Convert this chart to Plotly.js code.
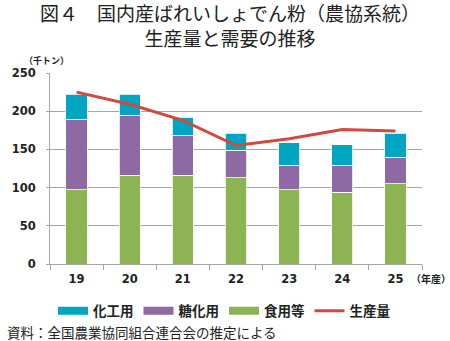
<!DOCTYPE html>
<html><head><meta charset="utf-8">
<script src="https://cdn.plot.ly/plotly-3.0.1.min.js"></script>
<style>body{margin:0;padding:0;background:#fff}#chart{width:450px;height:341px}</style>
</head><body><div id="chart"></div>
<script>
const years = ['19','20','21','22','23','24','25'];
const food = [97, 116, 116, 113, 97, 94, 105];       // 食用等
const sugar = [92, 79, 52, 36, 32, 35, 35];          // 糖化用
const chem = [33, 27, 24, 22, 30, 27, 31];           // 化工用
const production = [225, 209, 188, 155, 164, 176, 174]; // 生産量
const names = {chem:'化工用', sugar:'糖化用', food:'食用等', prod:'生産量'};
const colors = {chem:'#00A5C1', sugar:'#8E69A3', food:'#8CB453', prod:'#D24A3F'};

const JP = '"Noto Sans CJK JP", "DejaVu Sans", sans-serif';
const NUM = '"DejaVu Sans", "Noto Sans CJK JP", sans-serif';

// plot area in pixels (for placing free text)
const PL = 50, PR = 422, PT = 73, PB = 264;
const px = x => (x - PL) / (PR - PL);
const py = y => (PB - y) / (PB - PT);

function bar(y, key){
  return {type:'bar', x:years, y:y, name:names[key], showlegend:false,
    marker:{color:colors[key], line:{color:'#FFFFFF', width:0.8}}, hoverinfo:'y'};
}
function legendItem(key, rank, width){
  return {type:'scatter', mode:'lines', x:[years[0]], y:[-100], name:names[key],
    legendrank:rank, line:{color:colors[key], width:width}, hoverinfo:'skip'};
}
const traces = [
  bar(food,'food'), bar(sugar,'sugar'), bar(chem,'chem'),
  {type:'scatter', mode:'lines', x:years, y:production, name:names.prod, showlegend:false,
   line:{color:colors.prod, width:3}},
  legendItem('chem',1,8), legendItem('sugar',2,8), legendItem('food',3,8), legendItem('prod',4,3)
];
const layout = {
  width:450, height:341,
  margin:{l:PL, r:450-PR, t:PT, b:341-PB},
  paper_bgcolor:'#fff', plot_bgcolor:'#fff',
  barmode:'stack', bargap:0.6,
  showlegend:true,
  legend:{orientation:'h', traceorder:'normal', x:53/450, xref:'container', xanchor:'left',
    y:1-311/341, yref:'container', yanchor:'middle',
    font:{family:JP, size:13.5, color:'#222', weight:700}, itemwidth:30, tracegroupgap:0, itemclick:false},
  xaxis:{type:'category', categoryorder:'array', categoryarray:years, range:[-0.5, years.length-0.5],
    tickson:'boundaries', ticks:'outside', ticklen:5, tickcolor:'#A6A6A6',
    showline:true, linecolor:'#A6A6A6', linewidth:1, showgrid:false,
    tickfont:{family:NUM, size:11.5, color:'#222', weight:700}, ticklabelstandoff:4, fixedrange:true},
  yaxis:{range:[0,250], dtick:50, ticks:'outside', ticklen:3, tickcolor:'#A6A6A6',
    showline:true, linecolor:'#A6A6A6', linewidth:1,
    gridcolor:'#A6A6A6', gridwidth:1, zeroline:false,
    tickfont:{family:NUM, size:11.5, color:'#222', weight:700}, ticklabelstandoff:8, fixedrange:true},
  annotations:[
    {text:'図４　国内産ばれいしょでん粉（農協系統）<br>生産量と需要の推移', xref:'paper', yref:'paper',
     x:px(230), y:py(25), xanchor:'center', yanchor:'middle', align:'center', showarrow:false,
     font:{family:JP, size:19, color:'#222'}},
    {text:'（千トン）', xref:'paper', yref:'paper', x:px(46), y:py(60),
     xanchor:'center', yanchor:'middle', showarrow:false, font:{family:JP, size:9, color:'#222', weight:700}},
    {text:'（年産）', xref:'paper', yref:'paper', x:px(431), y:py(278),
     xanchor:'center', yanchor:'middle', showarrow:false, font:{family:JP, size:10, color:'#222', weight:700}},
    {text:'資料：全国農業協同組合連合会の推定による', xref:'paper', yref:'paper', x:px(5), y:py(332),
     xanchor:'left', yanchor:'middle', showarrow:false, font:{family:JP, size:13.5, color:'#222'}}
  ]
};
Plotly.newPlot('chart', traces, layout, {displayModeBar:false, staticPlot:true});
</script></body></html>
